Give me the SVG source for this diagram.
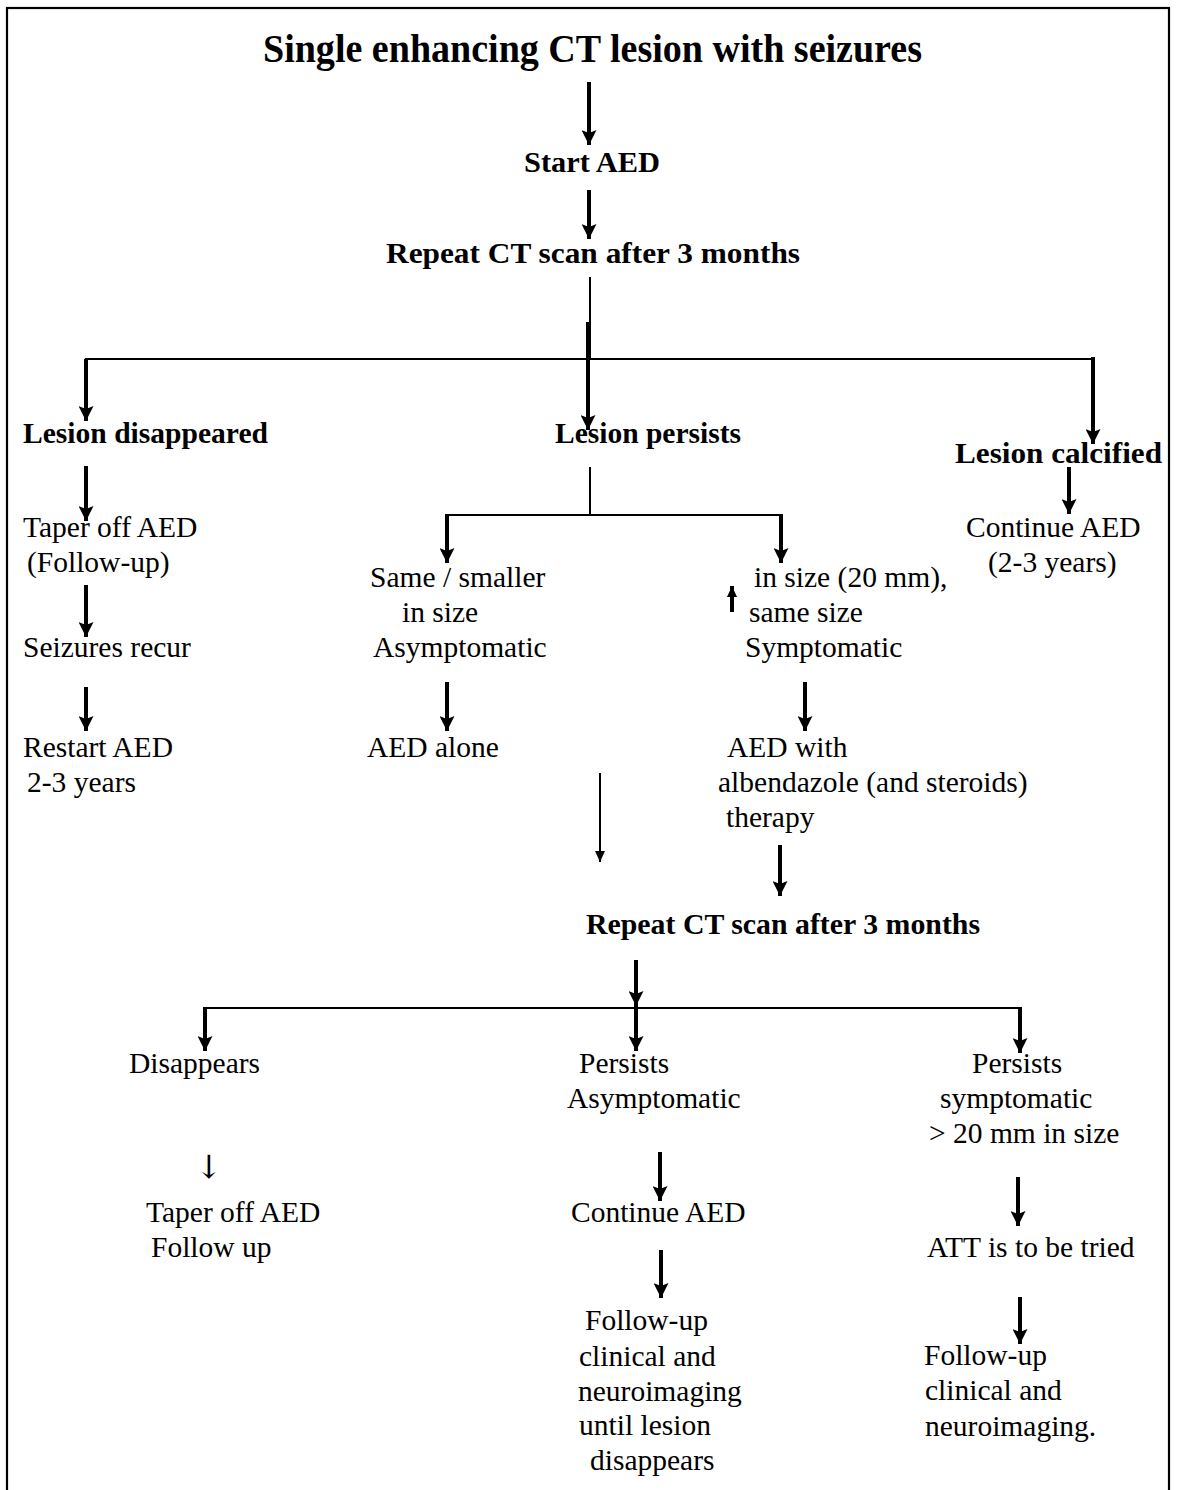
<svg xmlns="http://www.w3.org/2000/svg" width="1181" height="1490" viewBox="0 0 1181 1490">
<style>
text{font-family:"Liberation Serif","Times New Roman",serif;fill:#000}
.r{font-size:29.5px}
.b{font-size:30px;font-weight:bold}
.t{font-size:39px;font-weight:bold}
.th{stroke:#000;stroke-width:4;fill:none}
.tn{stroke:#000;stroke-width:2;fill:none}
.hl{stroke:#000;stroke-width:2.2;fill:none}
</style>
<defs>
<marker id="ah" markerUnits="userSpaceOnUse" markerWidth="15" markerHeight="15" refX="15" refY="7.5" orient="auto" viewBox="0 0 15 15">
<path d="M0,0 L15,7.5 L0,15 L3,7.5 z" fill="#000"/>
</marker>
<marker id="as" markerUnits="userSpaceOnUse" markerWidth="11" markerHeight="10" refX="11" refY="5" orient="auto" viewBox="0 0 11 10">
<path d="M0,0 L11,5 L0,10 z" fill="#000"/>
</marker>
</defs>
<rect x="7" y="8" width="1162" height="1520" fill="#fff" stroke="#000" stroke-width="2.2"/>

<g id="connectors">
<line class="th" x1="589" y1="82" x2="589" y2="145" marker-end="url(#ah)"/>
<line class="th" x1="589" y1="190" x2="589" y2="239" marker-end="url(#ah)"/>
<line class="tn" x1="590" y1="277" x2="590" y2="360"/>
<line class="th" x1="588" y1="322" x2="588" y2="430" marker-end="url(#ah)"/>
<polyline class="hl" points="86,420 86,359 1093,359"/>
<line class="th" x1="86" y1="359" x2="86" y2="421" marker-end="url(#ah)"/>
<line class="th" x1="1093" y1="357" x2="1093" y2="444" marker-end="url(#ah)"/>
<line class="th" x1="86" y1="466" x2="86" y2="521" marker-end="url(#ah)"/>
<line class="th" x1="86" y1="585" x2="86" y2="637" marker-end="url(#ah)"/>
<line class="th" x1="86" y1="687" x2="86" y2="731" marker-end="url(#ah)"/>
<line class="tn" x1="590" y1="467" x2="590" y2="515"/>
<line class="hl" x1="446" y1="515" x2="782" y2="515"/>
<line class="th" x1="447" y1="514" x2="447" y2="563" marker-end="url(#ah)"/>
<line class="th" x1="781" y1="514" x2="781" y2="563" marker-end="url(#ah)"/>
<line class="th" x1="1069" y1="467" x2="1069" y2="514" marker-end="url(#ah)"/>
<line class="th" x1="447" y1="682" x2="447" y2="731" marker-end="url(#ah)"/>
<line class="th" x1="732" y1="612" x2="732" y2="586" marker-end="url(#as)"/>
<line class="th" x1="805" y1="682" x2="805" y2="731" marker-end="url(#ah)"/>
<line class="tn" x1="600" y1="773" x2="600" y2="862" marker-end="url(#as)"/>
<line class="th" x1="780" y1="845" x2="780" y2="896" marker-end="url(#ah)"/>
<line class="th" x1="636" y1="960" x2="636" y2="1006" marker-end="url(#ah)"/>
<polyline class="hl" points="205,1020 205,1008 1020,1008"/>
<line class="th" x1="205" y1="1007" x2="205" y2="1051" marker-end="url(#ah)"/>
<line class="th" x1="636" y1="1000" x2="636" y2="1051" marker-end="url(#ah)"/>
<line class="th" x1="1020" y1="1007" x2="1020" y2="1053" marker-end="url(#ah)"/>
<line class="th" x1="660" y1="1152" x2="660" y2="1201" marker-end="url(#ah)"/>
<line class="th" x1="661" y1="1250" x2="661" y2="1298" marker-end="url(#ah)"/>
<line class="th" x1="1018" y1="1177" x2="1018" y2="1226" marker-end="url(#ah)"/>
<line class="th" x1="1020" y1="1297" x2="1020" y2="1344" marker-end="url(#ah)"/>
</g>

<g id="n-title"><text class="t" x="263" y="62" textLength="659" lengthAdjust="spacingAndGlyphs">Single enhancing CT lesion with seizures</text></g>
<g id="n-start"><text class="b" x="524" y="172" textLength="136" lengthAdjust="spacingAndGlyphs">Start AED</text></g>
<g id="n-repeat1"><text class="b" x="386" y="263" textLength="414" lengthAdjust="spacingAndGlyphs">Repeat CT scan after 3 months</text></g>
<g id="n-disappeared"><text class="b" x="23" y="443" textLength="245" lengthAdjust="spacingAndGlyphs">Lesion disappeared</text></g>
<g id="n-persists"><text class="b" x="555" y="443" textLength="186" lengthAdjust="spacingAndGlyphs">Lesion persists</text></g>
<g id="n-calcified"><text class="b" x="955" y="463" textLength="207" lengthAdjust="spacingAndGlyphs">Lesion calcified</text></g>

<g id="n-taper1" class="r"><text x="23" y="537">Taper off AED</text><text x="27" y="572">(Follow-up)</text></g>
<g id="n-recur" class="r"><text x="23" y="657">Seizures recur</text></g>
<g id="n-restart" class="r"><text x="23" y="757">Restart AED</text><text x="27" y="792">2-3 years</text></g>
<g id="n-same" class="r"><text x="370" y="587">Same / smaller</text><text x="402" y="622">in size</text><text x="373" y="657">Asymptomatic</text></g>
<g id="n-aedalone" class="r"><text x="367" y="757">AED alone</text></g>
<g id="n-increase" class="r"><text x="754" y="587">in size (20 mm),</text><text x="749" y="622">same size</text><text x="745" y="657">Symptomatic</text></g>
<g id="n-albendazole" class="r"><text x="727" y="757">AED with</text><text x="718" y="792">albendazole (and steroids)</text><text x="726" y="827">therapy</text></g>
<g id="n-continue1" class="r"><text x="966" y="537">Continue AED</text><text x="988" y="572">(2-3 years)</text></g>
<g id="n-repeat2"><text class="b" x="586" y="934" textLength="394" lengthAdjust="spacingAndGlyphs">Repeat CT scan after 3 months</text></g>
<g id="n-disappears" class="r"><text x="129" y="1073">Disappears</text></g>
<g id="n-persasym" class="r"><text x="579" y="1073">Persists</text><text x="567" y="1108">Asymptomatic</text></g>
<g id="n-perssym" class="r"><text x="972" y="1073">Persists</text><text x="940" y="1108">symptomatic</text><text x="929" y="1143">&gt; 20 mm in size</text></g>
<g id="n-smallarrow"><text x="209" y="1178" text-anchor="middle" style="font-family:'DejaVu Serif',serif;font-size:32px;fill:#000">↓</text></g>
<g id="n-taper2" class="r"><text x="146" y="1222">Taper off AED</text><text x="151" y="1257">Follow up</text></g>
<g id="n-continue2" class="r"><text x="571" y="1222">Continue AED</text></g>
<g id="n-att" class="r"><text x="927" y="1257">ATT is to be tried</text></g>
<g id="n-follow1" class="r"><text x="585" y="1330">Follow-up</text><text x="579" y="1366">clinical and</text><text x="578" y="1401">neuroimaging</text><text x="579" y="1435">until lesion</text><text x="590" y="1470">disappears</text></g>
<g id="n-follow2" class="r"><text x="924" y="1365">Follow-up</text><text x="925" y="1400">clinical and</text><text x="925" y="1436">neuroimaging.</text></g>
</svg>
